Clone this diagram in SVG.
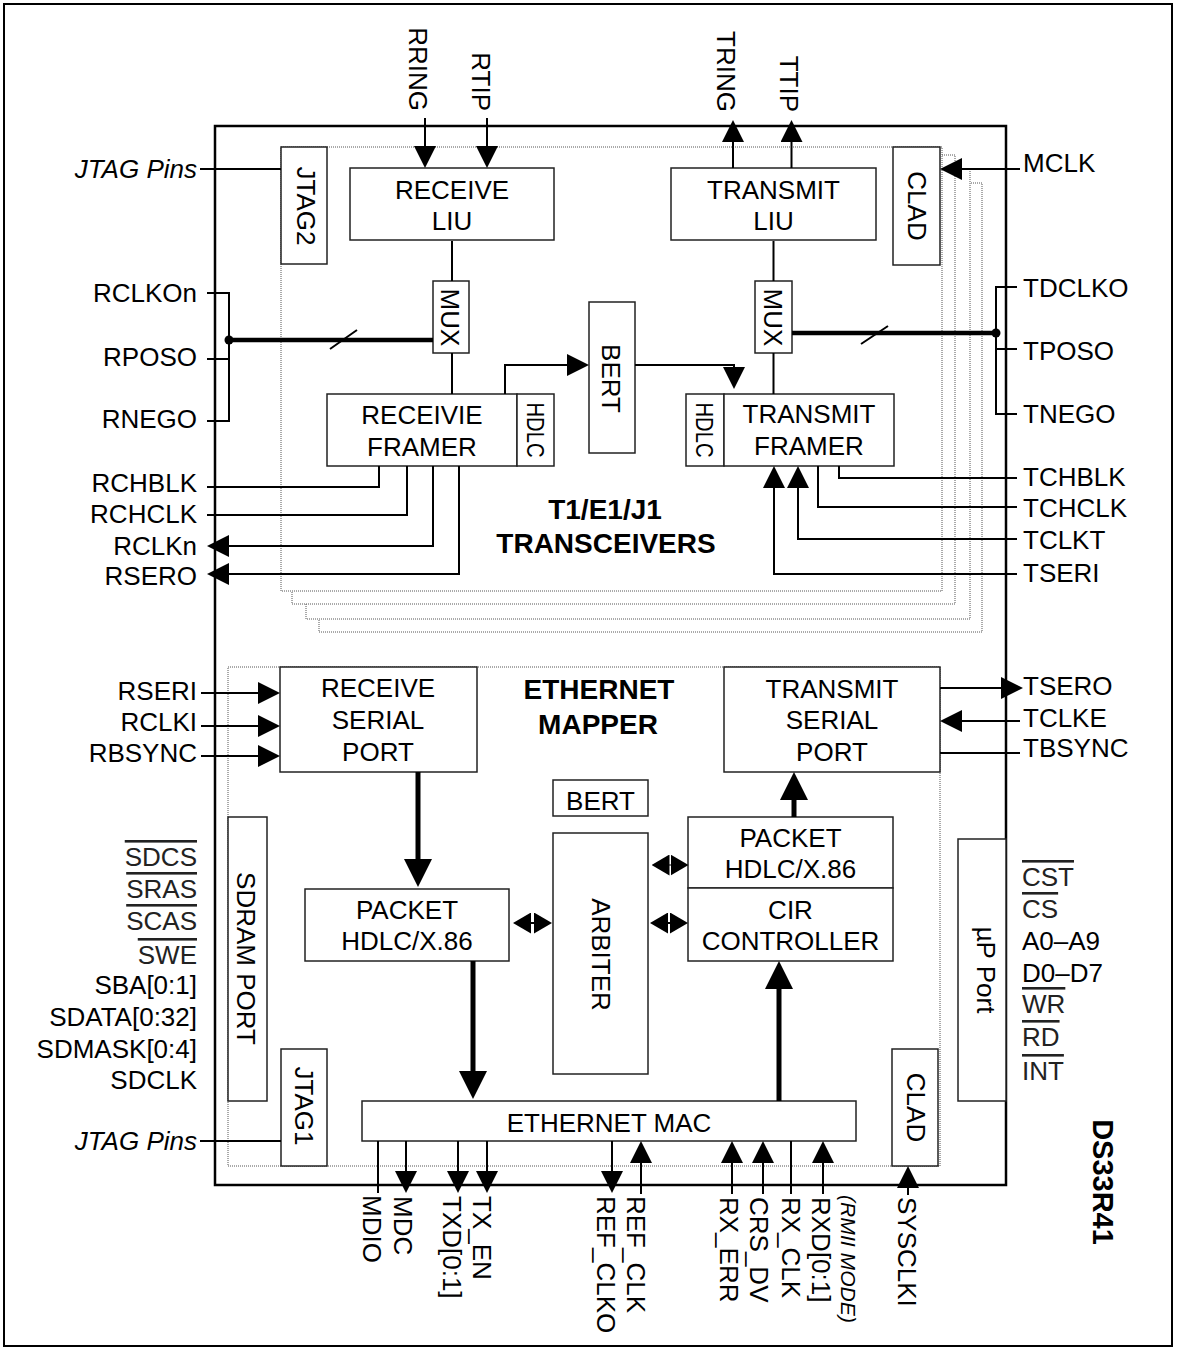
<svg xmlns="http://www.w3.org/2000/svg" width="1178" height="1348" viewBox="0 0 1178 1348">
<defs>
<style>
.t{font-family:"Liberation Sans",Arial,sans-serif;font-size:26px;fill:#000}
.m{text-anchor:middle}
.e{text-anchor:end}
.i{font-style:italic}
.b{font-weight:bold;font-size:28px}
.o{text-decoration:overline;text-decoration-thickness:1.3px;fill:#222}
.box{fill:#fff;stroke:#222;stroke-width:1.5}
.dot{fill:#fff;stroke:#555;stroke-width:1;stroke-dasharray:1 1}
.ln{fill:none;stroke:#000;stroke-width:2}
.tk{fill:none;stroke:#000;stroke-width:5}
.bus{fill:none;stroke:#000;stroke-width:4.5}
</style>
<marker id="ah" markerUnits="userSpaceOnUse" markerWidth="22" markerHeight="22" viewBox="0 0 22 22" refX="0" refY="11" orient="auto"><path d="M0,0 L22,11 L0,22 z" fill="#000"/></marker>
<marker id="aT" markerUnits="userSpaceOnUse" markerWidth="28" markerHeight="28" viewBox="0 0 28 28" refX="0" refY="14" orient="auto"><path d="M0,0 L28,14 L0,28 z" fill="#000"/></marker>
<marker id="aS" markerUnits="userSpaceOnUse" markerWidth="18" markerHeight="21" viewBox="0 0 18 21" refX="0" refY="10.5" orient="auto-start-reverse"><path d="M0,0 L18,10.5 L0,21 z" fill="#000"/></marker>
</defs>
<rect x="0" y="0" width="1178" height="1348" fill="#fff"/>
<rect x="4" y="4" width="1168" height="1342" fill="none" stroke="#000" stroke-width="2"/>
<rect id="chip" x="215" y="126" width="791" height="1059" fill="none" stroke="#000" stroke-width="2.5"/>

<g id="transceiver-stack">
<rect class="dot" x="319" y="183" width="663" height="449"/>
<rect class="dot" x="306" y="169" width="664" height="450"/>
<rect class="dot" x="292" y="155" width="663" height="449"/>
<rect class="dot" x="281" y="147" width="661" height="444"/>
</g>
<g id="ethernet-mapper-area">
<rect class="dot" x="228" y="667" width="712" height="499"/>
</g>

<g id="jtag2"><rect class="box" x="281" y="147" width="46" height="117"/><text class="t m" transform="translate(297,206) rotate(90)">JTAG2</text></g>
<g id="receive-liu"><rect class="box" x="350" y="168" width="204" height="72"/><text class="t m" x="452" y="199">RECEIVE</text><text class="t m" x="452" y="230">LIU</text></g>
<g id="transmit-liu"><rect class="box" x="671" y="168" width="205" height="72"/><text class="t m" x="773.5" y="199">TRANSMIT</text><text class="t m" x="773.5" y="230">LIU</text></g>
<g id="clad-top"><rect class="box" x="893" y="147" width="47" height="118"/><text class="t m" transform="translate(908,206) rotate(90)">CLAD</text></g>
<g id="mux-rx"><rect class="box" x="433" y="281" width="36" height="72"/><text class="t m" transform="translate(441,317.5) rotate(90)">MUX</text></g>
<g id="mux-tx"><rect class="box" x="755" y="281" width="37" height="72"/><text class="t m" transform="translate(764,317.5) rotate(90)">MUX</text></g>
<g id="bert-top"><rect class="box" x="589" y="302" width="46" height="151"/><text class="t m" transform="translate(602,378.5) rotate(90)">BERT</text></g>
<g id="receive-framer"><rect class="box" x="327" y="394" width="190" height="72"/><text class="t m" x="422" y="424">RECEIVIE</text><text class="t m" x="422" y="456">FRAMER</text></g>
<g id="hdlc-rx"><rect class="box" x="517" y="394" width="37" height="72"/><text class="t m" style="font-size:23px" textLength="55" lengthAdjust="spacingAndGlyphs" transform="translate(527,430) rotate(90)">HDLC</text></g>
<g id="hdlc-tx"><rect class="box" x="686" y="394" width="38" height="72"/><text class="t m" style="font-size:23px" textLength="55" lengthAdjust="spacingAndGlyphs" transform="translate(696,430) rotate(90)">HDLC</text></g>
<g id="transmit-framer"><rect class="box" x="724" y="394" width="170" height="72"/><text class="t m" x="809" y="423">TRANSMIT</text><text class="t m" x="809" y="455">FRAMER</text></g>
<g id="title-transceivers"><text class="t m b" x="605" y="519">T1/E1/J1</text><text class="t m b" x="606" y="553">TRANSCEIVERS</text></g>

<g id="receive-serial-port"><rect class="box" x="280" y="667" width="197" height="105"/><text class="t m" x="378" y="697">RECEIVE</text><text class="t m" x="378" y="729">SERIAL</text><text class="t m" x="378" y="761">PORT</text></g>
<g id="transmit-serial-port"><rect class="box" x="724" y="667" width="216" height="105"/><text class="t m" x="832" y="698">TRANSMIT</text><text class="t m" x="832" y="729">SERIAL</text><text class="t m" x="832" y="761">PORT</text></g>
<g id="title-mapper"><text class="t m b" x="599" y="699">ETHERNET</text><text class="t m b" x="598" y="734">MAPPER</text></g>
<g id="bert-mid"><rect class="box" x="553" y="780" width="95" height="36"/><text class="t m" x="600.5" y="810">BERT</text></g>
<g id="arbiter"><rect class="box" x="553" y="833" width="95" height="241"/><text class="t m" transform="translate(592,954.5) rotate(90)">ARBITER</text></g>
<g id="packet-rx"><rect class="box" x="305" y="889" width="204" height="72"/><text class="t m" x="407" y="919">PACKET</text><text class="t m" x="407" y="950">HDLC/X.86</text></g>
<g id="packet-tx"><rect class="box" x="688" y="817" width="205" height="71"/><text class="t m" x="790.5" y="847">PACKET</text><text class="t m" x="790.5" y="878">HDLC/X.86</text></g>
<g id="cir-controller"><rect class="box" x="688" y="888" width="205" height="73"/><text class="t m" x="790.5" y="919">CIR</text><text class="t m" x="790.5" y="950">CONTROLLER</text></g>
<g id="sdram-port"><rect class="box" x="228" y="817" width="39" height="284"/><text class="t m" transform="translate(237,958.5) rotate(90)">SDRAM PORT</text></g>
<g id="jtag1"><rect class="box" x="281" y="1049" width="46" height="117"/><text class="t m" transform="translate(295,1106) rotate(90)">JTAG1</text></g>
<g id="ethernet-mac"><rect class="box" x="362" y="1101" width="494" height="40"/><text class="t m" x="609" y="1132">ETHERNET MAC</text></g>
<g id="clad-bottom"><rect class="box" x="892" y="1049" width="46" height="117"/><text class="t m" transform="translate(907,1107.5) rotate(90)">CLAD</text></g>
<g id="up-port"><rect class="box" x="958" y="839" width="48" height="262"/><text class="t m" transform="translate(977,970) rotate(90)">µP Port</text></g>
<g id="part-name"><text class="t m b" style="font-size:29px" transform="translate(1093,1182) rotate(90)">DS33R41</text></g>

<g id="labels-left">
<text class="t e i" x="197" y="178">JTAG Pins</text>
<text class="t e" x="197" y="302">RCLKOn</text>
<text class="t e" x="197" y="366">RPOSO</text>
<text class="t e" x="197" y="428">RNEGO</text>
<text class="t e" x="197" y="492">RCHBLK</text>
<text class="t e" x="197" y="523">RCHCLK</text>
<text class="t e" x="197" y="555">RCLKn</text>
<text class="t e" x="197" y="585">RSERO</text>
<text class="t e" x="197" y="700">RSERI</text>
<text class="t e" x="197" y="731">RCLKI</text>
<text class="t e" x="197" y="762">RBSYNC</text>
<text class="t e o" x="197" y="866">SDCS</text>
<text class="t e o" x="197" y="898">SRAS</text>
<text class="t e o" x="197" y="930">SCAS</text>
<text class="t e o" x="197" y="964">SWE</text>
<text class="t e" x="197" y="994">SBA[0:1]</text>
<text class="t e" x="197" y="1026">SDATA[0:32]</text>
<text class="t e" x="197" y="1058">SDMASK[0:4]</text>
<text class="t e" x="197" y="1089">SDCLK</text>
<text class="t e i" x="197" y="1150">JTAG Pins</text>
</g>
<g id="labels-right">
<text class="t" x="1023" y="172">MCLK</text>
<text class="t" x="1023" y="297">TDCLKO</text>
<text class="t" x="1023" y="360">TPOSO</text>
<text class="t" x="1023" y="423">TNEGO</text>
<text class="t" x="1023" y="486">TCHBLK</text>
<text class="t" x="1023" y="517">TCHCLK</text>
<text class="t" x="1023" y="549">TCLKT</text>
<text class="t" x="1023" y="582">TSERI</text>
<text class="t" x="1023" y="695">TSERO</text>
<text class="t" x="1023" y="727">TCLKE</text>
<text class="t" x="1023" y="757">TBSYNC</text>
<text class="t o" x="1022" y="886">CST</text>
<text class="t o" x="1022" y="918">CS</text>
<text class="t" x="1022" y="950">A0–A9</text>
<text class="t" x="1022" y="982">D0–D7</text>
<text class="t o" x="1022" y="1013">WR</text>
<text class="t o" x="1022" y="1046">RD</text>
<text class="t o" x="1022" y="1080">INT</text>
</g>
<g id="labels-top">
<text class="t e" transform="translate(409,111) rotate(90)">RRING</text>
<text class="t e" transform="translate(472,111) rotate(90)">RTIP</text>
<text class="t e" transform="translate(717,112) rotate(90)">TRING</text>
<text class="t e" transform="translate(780,112) rotate(90)">TTIP</text>
</g>
<g id="labels-bottom">
<text class="t" transform="translate(363,1195) rotate(90)">MDIO</text>
<text class="t" transform="translate(394,1196) rotate(90)">MDC</text>
<text class="t" transform="translate(443,1196) rotate(90)">TXD[0:1]</text>
<text class="t" transform="translate(473,1196) rotate(90)">TX_EN</text>
<text class="t" transform="translate(597,1196) rotate(90)">REF_CLKO</text>
<text class="t" transform="translate(627,1196) rotate(90)">REF_CLK</text>
<text class="t" transform="translate(720,1197) rotate(90)">RX_ERR</text>
<text class="t" transform="translate(750,1197) rotate(90)">CRS_DV</text>
<text class="t" transform="translate(782,1197) rotate(90)">RX_CLK</text>
<text class="t" transform="translate(812,1197) rotate(90)">RXD[0:1]</text>
<text class="t i" style="font-size:20px" textLength="128" lengthAdjust="spacingAndGlyphs" transform="translate(841,1195) rotate(90)">(RMII MODE)</text>
<text class="t" transform="translate(898,1197) rotate(90)">SYSCLKI</text>
</g>

<g id="connectors">
<path class="ln" d="M425,118 V146" marker-end="url(#ah)"/>
<path class="ln" d="M487,118 V146" marker-end="url(#ah)"/>
<path class="ln" d="M733,168 V142" marker-end="url(#ah)"/>
<path class="ln" d="M791.5,168 V142" marker-end="url(#ah)"/>
<path class="ln" d="M1020,169 H962" marker-end="url(#ah)"/>
<path class="ln" d="M200,169 H281"/>
<path class="ln" d="M452,241 V281 M452,353 V394 M773.5,241 V281 M773.5,353 V394"/>
<path class="ln" d="M505,394 V365 H567" marker-end="url(#ah)"/>
<path class="ln" d="M635,365 H734 V367" marker-end="url(#ah)"/>
<path class="ln" d="M207,293 H229 V421 H207 M207,359 H229"/>
<path class="ln" d="M1017,287 H996 V414 H1017 M996,349 H1017"/>
<path class="bus" d="M229,340 H433"/>
<path class="bus" d="M792,333 H996"/>
<circle cx="229" cy="340" r="4.5" fill="#000"/>
<circle cx="996" cy="333" r="4.5" fill="#000"/>
<path class="ln" d="M330,349 L357,330 M861,344 L888,326"/>
<path class="ln" d="M379,466 V487 H207"/>
<path class="ln" d="M407,466 V515 H207"/>
<path class="ln" d="M433,466 V546 H229" marker-end="url(#ah)"/>
<path class="ln" d="M459,466 V574 H229" marker-end="url(#ah)"/>
<path class="ln" d="M839,466 V478 H1017"/>
<path class="ln" d="M818,466 V507 H1017"/>
<path class="ln" d="M1017,539 H798 V488" marker-end="url(#ah)"/>
<path class="ln" d="M1017,574 H774 V488" marker-end="url(#ah)"/>
<path class="ln" d="M201,693 H258" marker-end="url(#ah)"/>
<path class="ln" d="M201,726 H258" marker-end="url(#ah)"/>
<path class="ln" d="M201,756 H258" marker-end="url(#ah)"/>
<path class="ln" d="M940,688 H1001" marker-end="url(#ah)"/>
<path class="ln" d="M1020,721 H962" marker-end="url(#ah)"/>
<path class="ln" d="M940,753 H1020"/>
<path class="tk" d="M418,772 V859" marker-end="url(#aT)"/>
<path class="tk" d="M473,961 V1071" marker-end="url(#aT)"/>
<path class="tk" d="M779,1101 V989" marker-end="url(#aT)"/>
<path class="tk" d="M794,817 V800" marker-end="url(#aT)"/>
<path class="ln" d="M531,923 H534" marker-start="url(#aS)" marker-end="url(#aS)"/>
<path class="ln" d="M669.5,865 H670.5" marker-start="url(#aS)" marker-end="url(#aS)"/>
<path class="ln" d="M668,923 H670" marker-start="url(#aS)" marker-end="url(#aS)"/>
<path class="ln" d="M200,1141 H281"/>
<path class="ln" d="M378,1141 V1193"/>
<path class="ln" d="M406,1141 V1171" marker-end="url(#ah)"/>
<path class="ln" d="M458,1141 V1171" marker-end="url(#ah)"/>
<path class="ln" d="M487,1141 V1171" marker-end="url(#ah)"/>
<path class="ln" d="M612,1141 V1171" marker-end="url(#ah)"/>
<path class="ln" d="M641,1194 V1163" marker-end="url(#ah)"/>
<path class="ln" d="M732,1194 V1163" marker-end="url(#ah)"/>
<path class="ln" d="M763,1194 V1163" marker-end="url(#ah)"/>
<path class="ln" d="M791,1141 V1194"/>
<path class="ln" d="M823,1194 V1163" marker-end="url(#ah)"/>
<path class="ln" d="M908,1195 V1188" marker-end="url(#ah)"/>
</g>
</svg>
